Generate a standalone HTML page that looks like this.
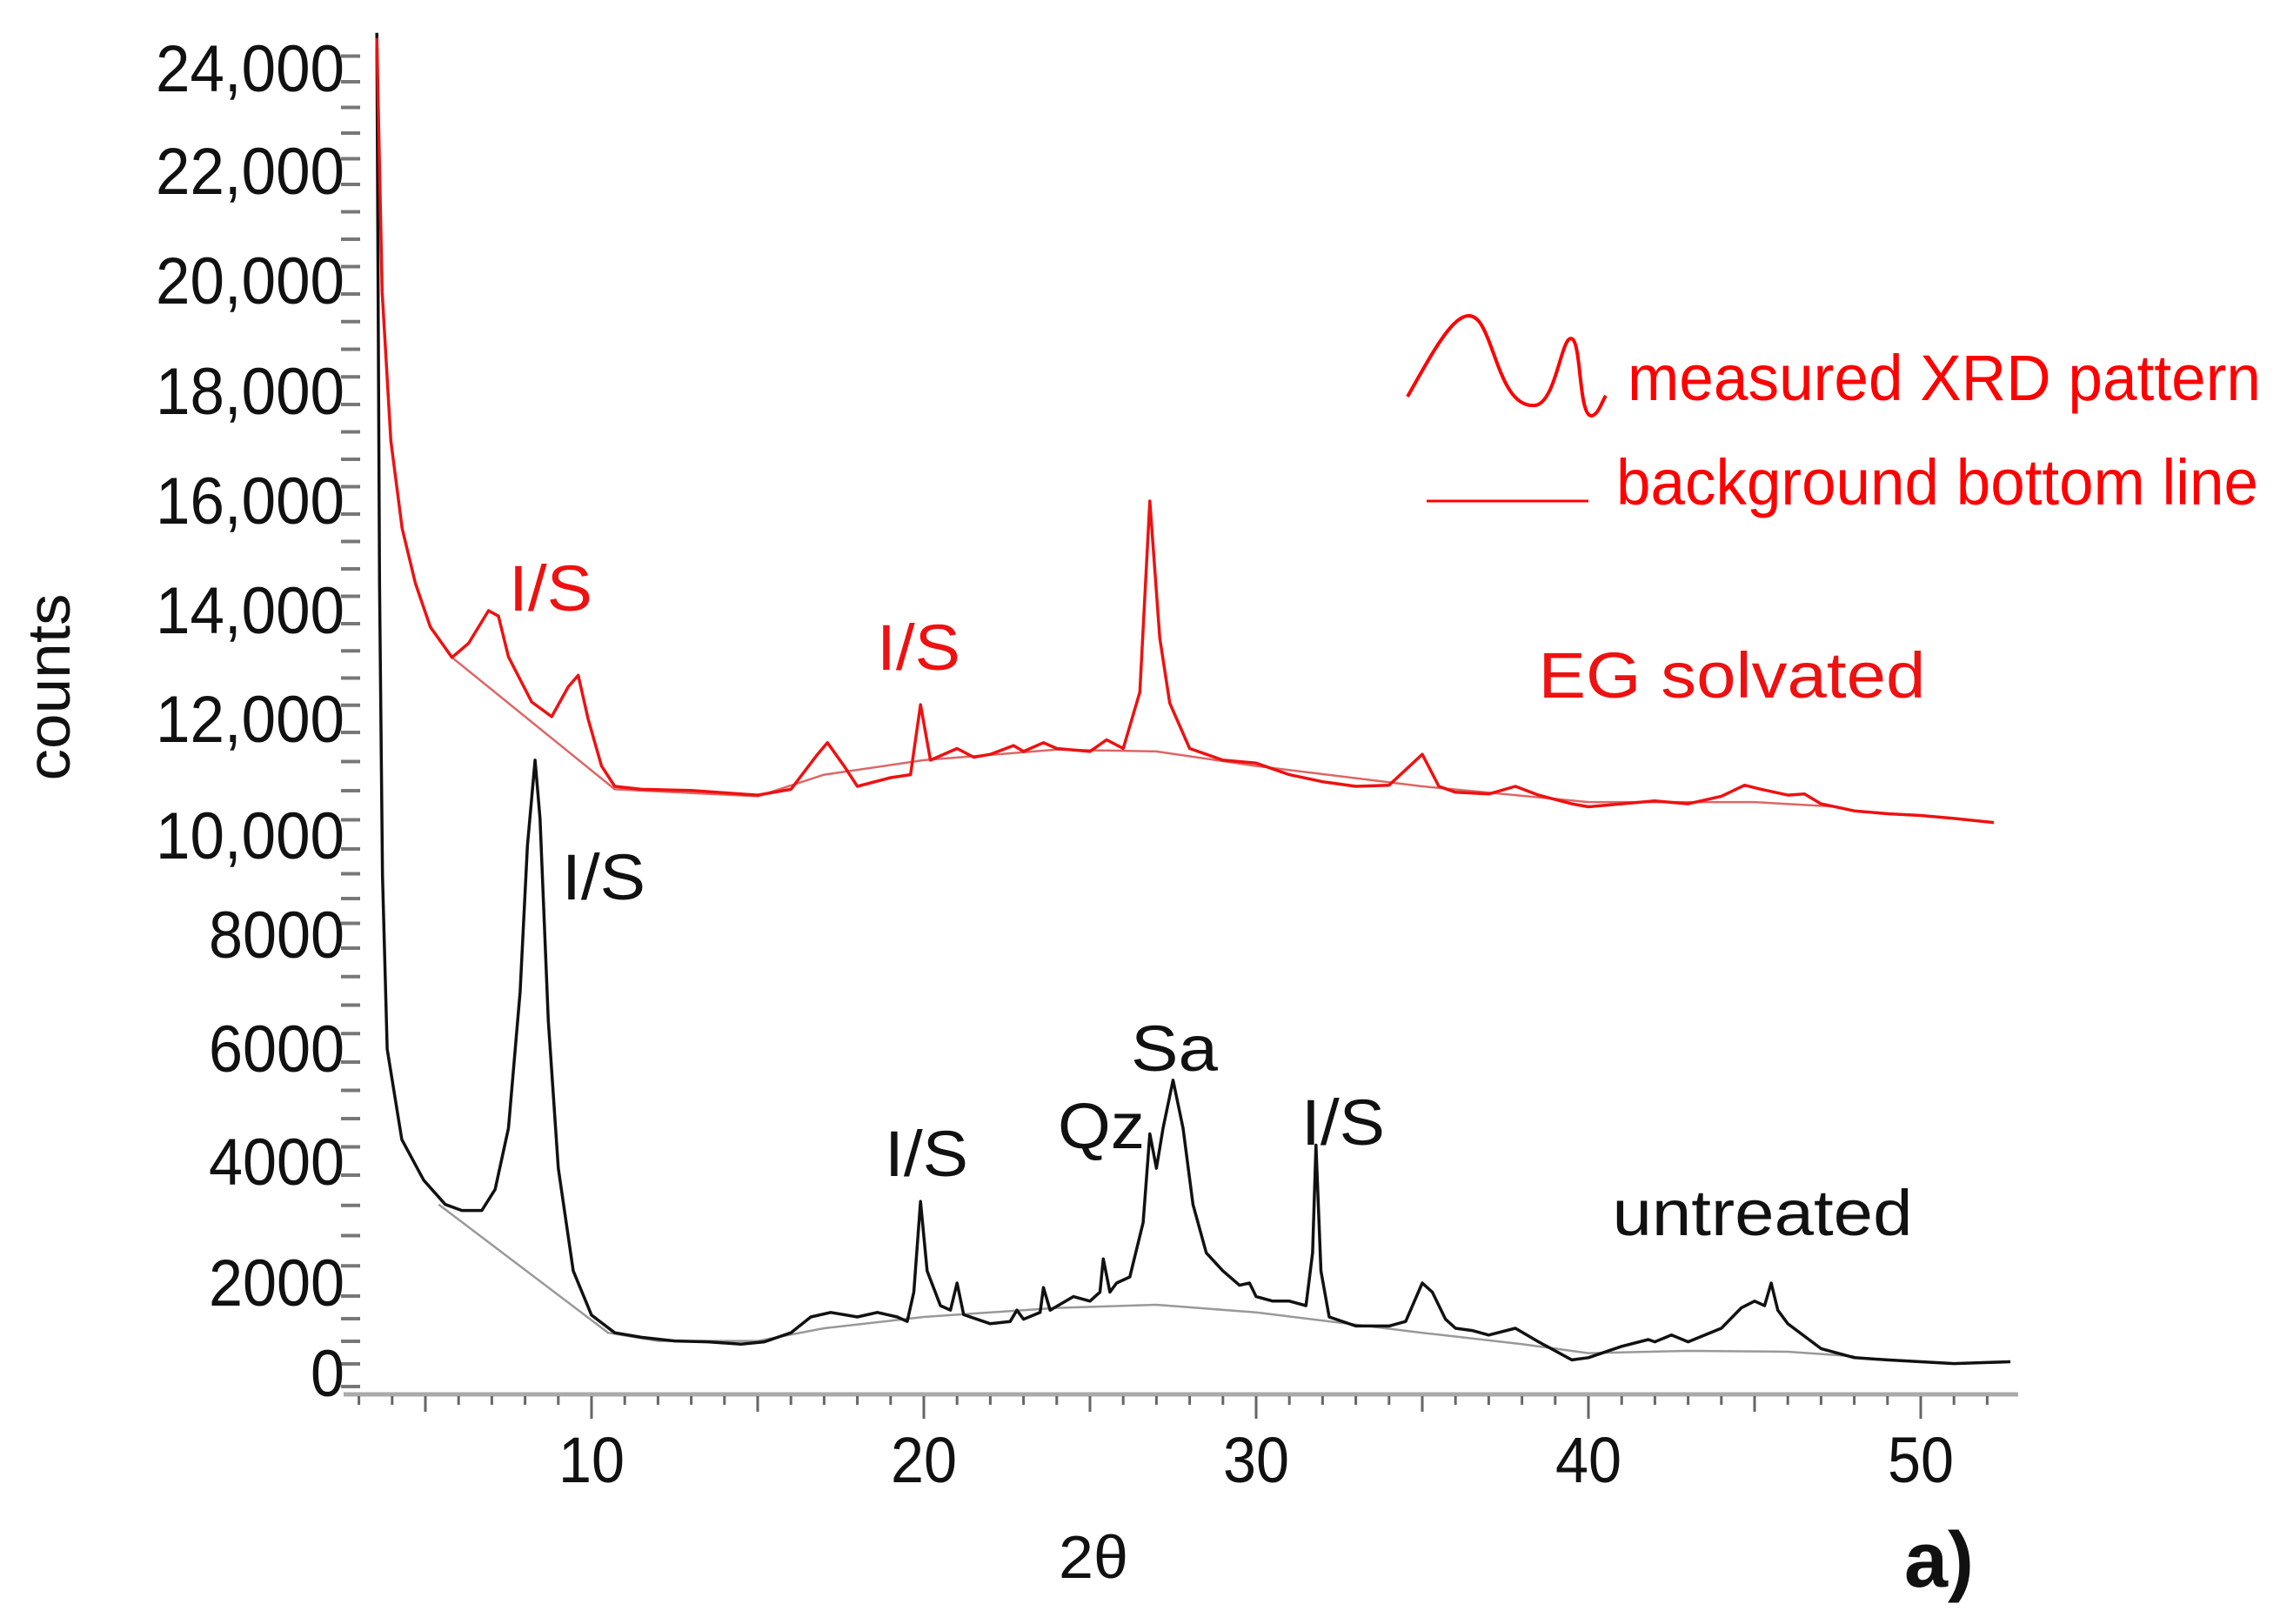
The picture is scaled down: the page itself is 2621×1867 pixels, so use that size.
<!DOCTYPE html>
<html><head><meta charset="utf-8"><style>
html,body{margin:0;padding:0;background:#fff;}
svg{display:block;font-family:"Liberation Sans",sans-serif;}
</style></head><body>
<svg id="chart" width="2621" height="1867" viewBox="0 0 2621 1867" xmlns="http://www.w3.org/2000/svg">
<rect width="2621" height="1867" fill="#fff"/>
<g id="axes"></g>
<g id="series"></g>
<text x="0" y="0" transform="translate(80,790) rotate(-90)" font-size="70" text-anchor="middle" fill="#111" textLength="215" lengthAdjust="spacingAndGlyphs">counts</text>
<text x="1257" y="1814" font-size="70" text-anchor="middle" fill="#111" textLength="80" lengthAdjust="spacingAndGlyphs">2θ</text>
<text x="2229" y="1824" font-size="90" font-weight="bold" text-anchor="middle" fill="#111">a)</text>
<g>
<path d="M1618,456 C1650,400 1680,340 1702,372 C1720,400 1728,470 1765,466 C1790,462 1795,380 1808,390 C1818,400 1815,480 1830,478 C1838,476 1842,460 1846,455" fill="none" stroke="#f00" stroke-width="4"/>
<text x="1871" y="460" font-size="74" fill="#f00" textLength="728" lengthAdjust="spacingAndGlyphs">measured XRD pattern</text>
<line x1="1640" y1="576" x2="1826" y2="576" stroke="#f00" stroke-width="3"/>
<text x="1858" y="580" font-size="74" fill="#f00" textLength="738" lengthAdjust="spacingAndGlyphs">background bottom line</text>
</g>
<g font-size="74">
<text x="633" y="702" fill="#e11" text-anchor="middle" textLength="96" lengthAdjust="spacingAndGlyphs">I/S</text>
<text x="1056" y="770" fill="#e11" text-anchor="middle" textLength="96" lengthAdjust="spacingAndGlyphs">I/S</text>
<text x="1991" y="802" fill="#e11" text-anchor="middle" textLength="445" lengthAdjust="spacingAndGlyphs">EG solvated</text>
<text x="694" y="1034" fill="#111" text-anchor="middle" textLength="96" lengthAdjust="spacingAndGlyphs">I/S</text>
<text x="1065" y="1352" fill="#111" text-anchor="middle" textLength="96" lengthAdjust="spacingAndGlyphs">I/S</text>
<text x="1266" y="1320" fill="#111" text-anchor="middle" textLength="100" lengthAdjust="spacingAndGlyphs">Qz</text>
<text x="1350" y="1231" fill="#111" text-anchor="middle" textLength="100" lengthAdjust="spacingAndGlyphs">Sa</text>
<text x="1544" y="1316" fill="#111" text-anchor="middle" textLength="96" lengthAdjust="spacingAndGlyphs">I/S</text>
<text x="2026" y="1420" fill="#111" text-anchor="middle" textLength="345" lengthAdjust="spacingAndGlyphs">untreated</text>
</g>
</svg>
<script>
const yTickValues = [0,2000,4000,6000,8000,10000,12000,14000,16000,18000,20000,22000,24000];
const yTickLabels = ["0","2000","4000","6000","8000","10,000","12,000","14,000","16,000","18,000","20,000","22,000","24,000"];
const xTickValues = [10,20,30,40,50];
const xTickLabels = ["10","20","30","40","50"];
const untreatedTheta = [3.54,3.62,3.71,3.85,4.29,4.95,5.6,6.1,6.7,7.1,7.5,7.85,8.07,8.3,8.45,8.7,9.0,9.45,10.0,10.7,11.5,12.5,13.5,14.5,15.2,16,16.6,17.2,18,18.6,19.2,19.5,19.7,19.9,20.1,20.5,20.8,21.0,21.2,22,22.6,22.8,23,23.5,23.6,23.8,24.5,25,25.3,25.4,25.6,25.8,26.2,26.6,26.8,27.0,27.2,27.5,27.8,28.1,28.5,29,29.5,29.8,30,30.5,31,31.5,31.7,31.8,31.95,32.2,33,34,34.5,35,35.3,35.7,36,36.5,37,37.8,38.5,39.5,40,41,41.8,42,42.5,43,44,44.6,45,45.3,45.5,45.7,46,47,48,49,50,51,52.7];
const untreatedCounts = [24700,14500,9200,6000,4400,3700,3300,3200,3200,3550,4600,7000,9800,11300,10300,6500,3900,2200,1290,900,800,720,700,650,700,900,1250,1350,1250,1350,1250,1150,1800,3350,2200,1500,1400,2000,1300,1100,1150,1400,1200,1350,1900,1400,1700,1600,1800,2400,1800,2000,2100,3000,4500,3900,4600,5450,4600,3300,2500,2200,1950,2000,1700,1600,1600,1500,2500,4300,2200,1250,1050,1050,1150,2000,1800,1200,1000,950,850,1000,700,300,350,600,750,700,850,700,1000,1450,1600,1500,2000,1400,1100,550,350,300,260,220,260];
const egTheta = [3.54,3.7,3.96,4.3,4.7,5.15,5.8,6.3,6.9,7.2,7.5,8.2,8.8,9.3,9.6,9.9,10.3,10.7,11.5,13,15,16,16.8,17.1,17.6,18,19,19.6,19.9,20.2,21,21.5,22,22.7,23,23.6,24,25,25.5,26,26.5,26.8,27.1,27.4,28,29,30,31,32,33,34,35,35.5,36,37,37.8,38.5,39.5,40,41,42,43,44,44.7,45.2,46,46.5,47,48,49,50,51,52.2];
const egCounts = [24600,19800,17100,15500,14500,13700,13140,13400,14000,13900,13150,12320,12050,12600,12810,12000,11200,10850,10800,10780,10700,10800,11400,11600,11200,10850,11000,11050,12270,11300,11500,11350,11400,11550,11450,11600,11500,11450,11650,11500,12500,16000,13500,12300,11500,11300,11250,11050,10930,10850,10870,11400,10850,10750,10720,10850,10700,10550,10500,10550,10600,10550,10680,10870,10800,10700,10720,10550,10430,10380,10350,10300,10230];
const egBgTheta = [5.8,10.7,15,17,20,24,27,30,35,40,45,47.5];
const egBgCounts = [13140,10800,10680,11050,11300,11480,11450,11200,10850,10580,10580,10500];
const untreatedBgTheta = [5.4,10.5,12,15,17,20,24,27,30,35,38,40,43,46,48];
const untreatedBgCounts = [3300,900,720,720,1000,1250,1450,1520,1350,900,650,450,500,480,380];

// axis calibration (the printed y axis is not perfectly linear)
const yCalVals = [0,2000,4000,6000,8000,10000,12000,14000,16000,18000,20000,22000,24000];
const yCalPx = [1579,1475,1336,1206,1075,961,827,702,576,450,323,197,79];
function X(t){ return 680 + (t-10)*38.2; }
function Y(c){
  let i = 0;
  if (c >= yCalVals[yCalVals.length-1]) i = yCalVals.length-2;
  else { while (i < yCalVals.length-2 && c > yCalVals[i+1]) i++; }
  const f = (c - yCalVals[i])/(yCalVals[i+1]-yCalVals[i]);
  return yCalPx[i] + f*(yCalPx[i+1]-yCalPx[i]);
}
const NS = "http://www.w3.org/2000/svg";
const axes = document.getElementById('axes');
const series = document.getElementById('series');
function mk(tag, attrs, parent){ const e=document.createElementNS(NS,tag); for(const k in attrs) e.setAttribute(k,attrs[k]); parent.appendChild(e); return e; }

const xl = mk('line',{x1:395,y1:1603,x2:2320,y2:1603,stroke:'#aaa','stroke-width':5},axes);


for (let t=3; t<=52; t++){
  const len = (t%10===0)?26:((t%5===0)?18:10);
  const tk = mk('line',{x1:X(t),y1:1605,x2:X(t),y2:1605+len,stroke:'#666','stroke-width':3},axes);
  
  
}
xTickValues.forEach((v,i)=>{
  const tx = mk('text',{x:X(v),y:1704,'font-size':74,'text-anchor':'middle',fill:'#111'},axes);
  tx.textContent = xTickLabels[i];
  tx.setAttribute('lengthAdjust','spacingAndGlyphs');
  tx.setAttribute('textLength','76');
  
  
});
for (let c=0; c<=24500; c+=500){
  const y = Y(c);
  const tk = mk('line',{x1:392,y1:y+15,x2:414,y2:y+15,stroke:'#777','stroke-width':4},axes);
  
  
}
yTickValues.forEach((v,i)=>{
  const tx = mk('text',{x:396,y:Y(v)+26,'font-size':76,'text-anchor':'end',fill:'#111'},axes);
  tx.textContent = yTickLabels[i];
  const lbl = yTickLabels[i];
  const w = lbl.replace(/,/g,'').length*39 + (lbl.indexOf(',')>=0?22:0);
  tx.setAttribute('lengthAdjust','spacingAndGlyphs');
  tx.setAttribute('textLength', String(w));
  
  
});
function line(th, cs, color, w, name){
  const pts = th.map((t,i)=>X(t).toFixed(1)+','+Y(cs[i]).toFixed(1)).join(' ');
  const p = mk('polyline',{points:pts,fill:'none',stroke:color,'stroke-width':w,'stroke-linejoin':'round'},series);
  
  
}
line(untreatedBgTheta, untreatedBgCounts, '#999', 2.5, 'untreated-background-line');
line(egBgTheta, egBgCounts, '#d66', 2.5, 'eg-background-line');
line(untreatedTheta, untreatedCounts, '#111', 3.5, 'untreated-pattern');
line(egTheta, egCounts, '#e11', 3.5, 'eg-solvated-pattern');
</script>
</body></html>
